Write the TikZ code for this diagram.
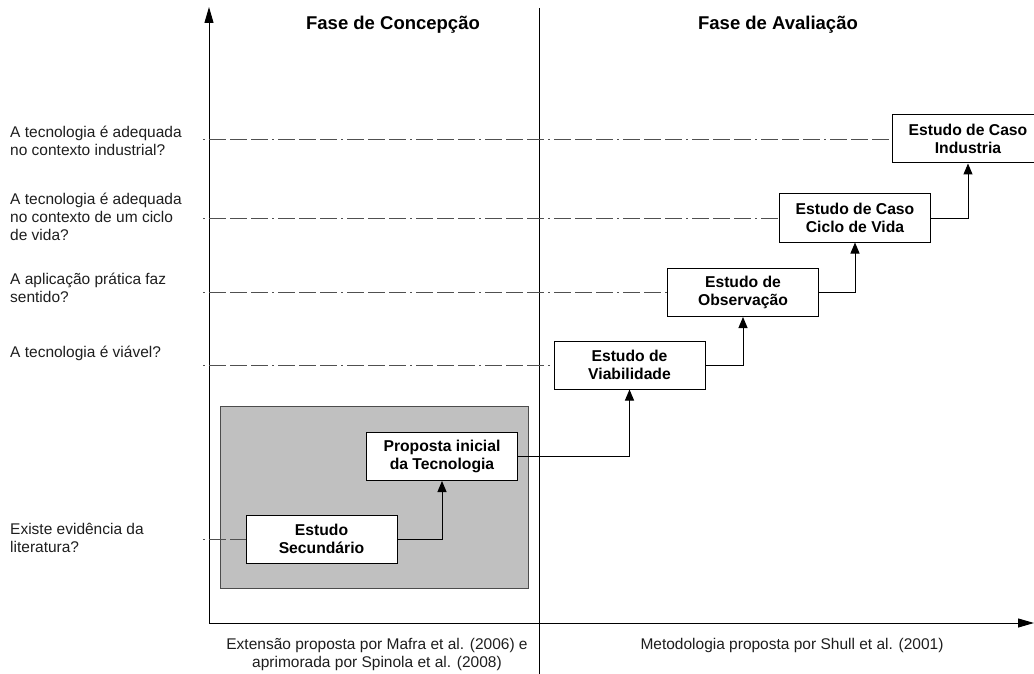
\documentclass[tikz,border=0pt]{standalone}
\usepackage{fontspec}
\setmainfont{Liberation Sans}
\usetikzlibrary{arrows.meta}
\definecolor{panelgray}{RGB}{192,192,192}
\definecolor{guidegray}{RGB}{80,80,80}
\definecolor{inkgray}{RGB}{30,30,30}
\begin{document}
\begin{tikzpicture}[x=1pt,y=-1pt,
  question/.style={anchor=west,align=left,inner sep=0pt,text=inkgray,
    font=\fontsize{15.5}{18}\selectfont},
  stagebox/.style={draw=black,fill=white,line width=1pt,minimum width=151pt,
    minimum height=48pt,inner sep=0pt,align=center,
    font=\bfseries\fontsize{15.7}{17.5}\selectfont},
  phase/.style={inner sep=0pt,font=\bfseries\fontsize{18.5}{22}\selectfont},
  caption/.style={inner sep=0pt,align=center,text=inkgray,
    font=\fontsize{15.5}{18}\selectfont},
  guide/.style={draw=guidegray,line width=0.9pt,
    dash pattern=on 2pt off 4pt on 17pt off 4pt on 17pt off 4pt on 17pt off 4pt},
  flow/.style={draw=black,line width=1pt,-{Triangle[length=11pt,width=9pt]}},
  axis/.style={draw=black,line width=1pt,-{Triangle[length=16pt,width=9pt]}}
]
\useasboundingbox (0,0) rectangle (1034,674);

% grey panel of the extension
\fill[panelgray,draw=black!70,line width=0.8pt] (220,406) rectangle (528,588);

% axes and phase divider
\coordinate (origin) at (209,623);
\coordinate (ytop) at (209,7);
\coordinate (xend) at (1034,623);
\coordinate (divtop) at (539,8);
\coordinate (divbot) at (539,674);
\draw[axis] (origin) -- (ytop);
\draw[axis] (origin) -- (xend);
\draw[black,line width=1pt] (divtop) -- (divbot);

% phase headings
\node[phase] (concepcao) at (393,25) {Fase de Concepção};
\node[phase] (avaliacao) at (778,25) {Fase de Avaliação};

% questions on the vertical axis
\node[question] (q1) at (10,140.5) {A tecnologia é adequada\\no contexto industrial?};
\node[question] (q2) at (10,217) {A tecnologia é adequada\\no contexto de um ciclo\\de vida?};
\node[question] (q3) at (10,288) {A aplicação prática faz\\sentido?};
\node[question] (q4) at (10,353) {A tecnologia é viável?};
\node[question] (q5) at (10,537.5) {Existe evidência da\\literatura?};

% study stages
\node[stagebox] (sec)  at (321.5,539) {Estudo\\Secundário};
\node[stagebox] (prop) at (442,456.5) {Proposta inicial\\da Tecnologia};
\node[stagebox] (viab) at (629.5,365) {Estudo de\\Viabilidade};
\node[stagebox] (obs)  at (743,292.5) {Estudo de\\Observação};
\node[stagebox] (ciclo) at (855,218) {Estudo de Caso\\Ciclo de Vida};
\node[stagebox] (ind)  at (968,139) {Estudo de Caso\\Industria};

% guide lines from the axis to each stage
\coordinate (g1) at (203,139);
\coordinate (g2) at (203,218);
\coordinate (g3) at (203,292.5);
\coordinate (g4) at (203,365);
\coordinate (g5) at (203,539);
\path[guide] (g1) -- (ind.west);
\path[guide] (g2) -- (ciclo.west);
\path[guide] (g3) -- (obs.west);
\path[guide] (g4) -- (viab.west);
\path[guide] (g5) -- (sec.west);

% progression between stages
\draw[flow] (sec.east) -| (prop.south);
\draw[flow] (prop.east) -| (viab.south);
\draw[flow] (viab.east) -| (obs.south);
\draw[flow] (obs.east) -| (ciclo.south);
\draw[flow] (ciclo.east) -| (ind.south);

% captions under the horizontal axis
\node[caption] (capL) at (377,654) {Extensão proposta por Mafra et al. (2006) e\\aprimorada por Spinola et al. (2008)};
\node[caption] (capR) at (792,645) {Metodologia proposta por Shull et al. (2001)};
\end{tikzpicture}
\end{document}
